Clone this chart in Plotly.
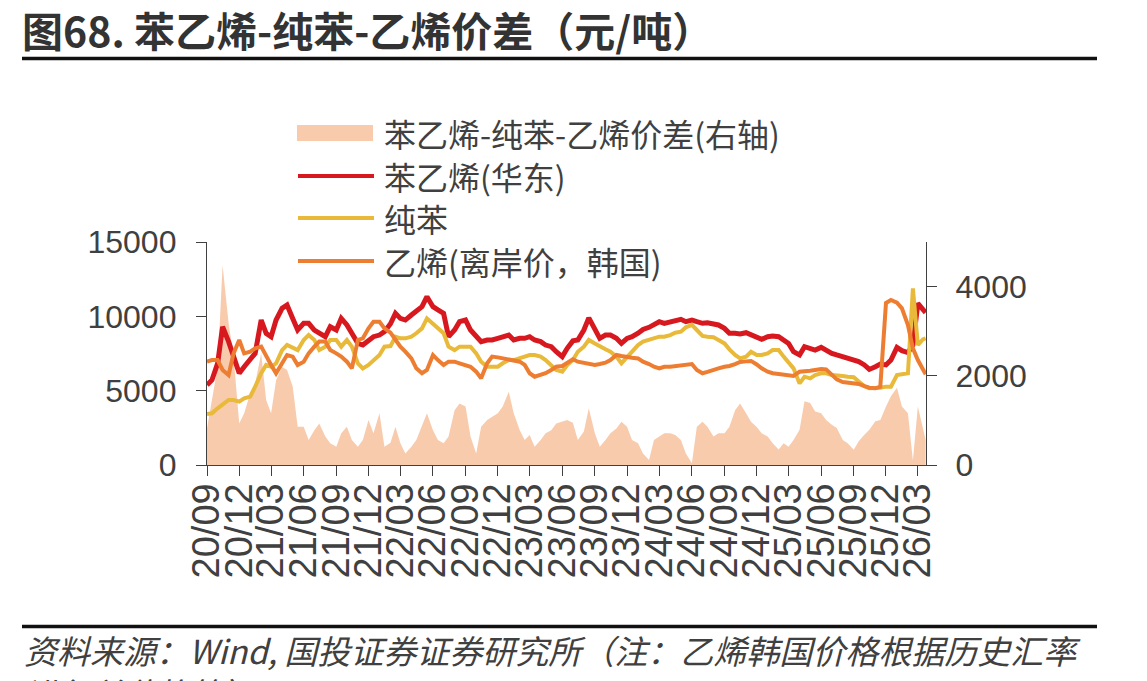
import pandas as pd
import plotly.graph_objects as go

# ---------------- data (semi-monthly readings from the chart) ----------------
dates = list(pd.date_range('2020-09-01', '2026-03-15', freq='SMS').strftime('%Y-%m-%d')) + ['2026-03-23']

styrene = [
    5380, 5720, 6840, 9300, 8300, 7290, 6170, 6610, 7170, 7510,
    9750, 8860, 8630, 9750, 10540, 10760, 9860, 9080, 9530, 9530,
    9080, 8860, 8630, 9300, 9080, 9860, 9420, 8860, 8180, 8070,
    8410, 8630, 8740, 8970, 9500, 10200, 9860, 9750, 10090, 10310,
    10650, 11320, 10650, 10430, 10200, 8630, 9080, 9640, 9750, 9080,
    8630, 8300, 8410, 8410, 8520, 8630, 8740, 8410, 8520, 8520,
    8630, 8410, 8300, 8070, 7960, 7620, 7290, 7850, 8350, 8410,
    9080, 9900, 9100, 8520, 8740, 8740, 8520, 8180, 8520, 8630,
    8860, 9120, 9260, 9420, 9640, 9530, 9640, 9710, 9800, 9640,
    9750, 9640, 9530, 9570, 9530, 9420, 9190, 8860, 8860, 8810,
    8900, 8740, 8610, 8450, 8630, 8680, 8630, 8450, 8180, 7620,
    7400, 7960, 7850, 7730, 7910, 7690, 7510, 7400, 7290, 7170,
    7020, 6950, 6730, 6430, 6610, 6790, 6730, 7060, 7910, 7690,
    7560, 8070, 10870, 10430, 10250,
]

benzene = [
    3430, 3475, 3810, 4040, 4370, 4370, 4260, 4480, 4600, 5270,
    6170, 6730, 6610, 6840, 7730, 8070, 7850, 7730, 8410, 8740,
    8410, 7730, 7960, 8410, 8410, 7960, 8410, 7960, 6840, 6500,
    6730, 7060, 7400, 7960, 8000, 8630, 8520, 8520, 8630, 8860,
    9190, 9860, 9530, 9190, 8860, 7960, 7730, 7960, 7960, 7960,
    7510, 6950, 6610, 6610, 6610, 6840, 7060, 7060, 7170, 7290,
    7400, 7400, 7290, 7060, 6730, 6390, 6280, 6730, 7060, 7620,
    7960, 8410, 8180, 7960, 7780, 7620, 7290, 6840, 7290, 7620,
    8070, 8300, 8410, 8520, 8630, 8630, 8740, 8900, 8970, 9260,
    9420, 9080, 8680, 8630, 8590, 8410, 8180, 7780, 7400, 7170,
    7290, 7620, 7400, 7400, 7510, 7730, 7730, 7290, 6840, 6500,
    5490, 5940, 5830, 6050, 6170, 6170, 6050, 6050, 5990, 5940,
    5900, 5610, 5310, 5160, 5160, 5200, 5270, 5270, 6050, 6120,
    6170, 11880, 8070, 8450, 8520,
]

ethylene = [
    6950, 7060, 7060, 6390, 6050, 7510, 8410, 7510, 7620, 7850,
    7960, 7290, 6730, 6170, 6840, 7400, 7290, 6730, 6950, 7510,
    7960, 8300, 8300, 7730, 7510, 7290, 6950, 6500, 8410, 8520,
    9190, 9640, 9640, 9190, 8900, 8410, 7960, 7620, 7170, 6500,
    6170, 6390, 7400, 7060, 6730, 6950, 6950, 6840, 6730, 6610,
    6280, 5830, 6840, 7290, 7240, 7170, 7110, 7060, 6950, 6730,
    6170, 5940, 6050, 6170, 6390, 6610, 6660, 6840, 7110, 6950,
    6880, 6840, 6730, 6790, 6880, 7060, 7400, 7330, 7240, 7220,
    7170, 6950, 6790, 6610, 6500, 6610, 6610, 6660, 6700, 6750,
    6790, 6390, 6170, 6260, 6430, 6500, 6610, 6660, 6790, 6930,
    6970, 7000, 6760, 6500, 6280, 6170, 6120, 6080, 6030, 5990,
    6280, 6280, 6340, 6390, 6460, 6430, 6050, 5760, 5580, 5540,
    5490, 5450, 5310, 5200, 5160, 5270, 10900, 11100, 10920, 10540,
    9420, 7850, 7060, 6500, 6100,
]

spread = [
    820, 1460, 2200, 4480, 3180, 2430, 930, 1160, 1610, 1830,
    2500, 1460, 1160, 1900, 2200, 2130, 1760, 860, 860, 560,
    780, 930, 640, 490, 410, 710, 860, 560, 410, 560,
    1010, 710, 1160, 410, 500, 860, 490, 260, 410, 560,
    860, 1160, 780, 560, 490, 640, 1230, 1380, 1310, 640,
    260, 860, 1010, 1080, 1160, 1310, 1640, 1160, 780, 560,
    670, 410, 560, 710, 780, 930, 970, 1010, 950, 560,
    750, 1270, 710, 410, 560, 710, 820, 970, 860, 560,
    490, 260, 110, 560, 640, 710, 710, 670, 560, 260,
    40, 860, 970, 860, 640, 710, 710, 860, 1230, 1380,
    1160, 970, 850, 710, 640, 490, 350, 490, 410, 560,
    790, 1430, 1390, 1200, 1160, 1010, 900, 830, 560, 490,
    340, 530, 680, 790, 980, 1010, 1310, 1540, 1730, 1310,
    1160, 100, 1310, 860, 560,
]

tick_labels = ['20/09', '20/12', '21/03', '21/06', '21/09', '21/12', '22/03', '22/06',
               '22/09', '22/12', '23/03', '23/06', '23/09', '23/12', '24/03', '24/06',
               '24/09', '24/12', '25/03', '25/06', '25/09', '25/12', '26/03']
tick_vals = ['20%s-%s-01' % (t[:2], t[3:]) for t in tick_labels]

left_ticks = [0, 5000, 10000, 15000]
left_labels = ['0', '5000', '10000', '15000']
right_ticks = [0, 2000, 4000]
right_labels = ['0', '2000', '4000']

series_names = ['苯乙烯-纯苯-乙烯价差(右轴)', '苯乙烯(华东)', '纯苯', '乙烯(离岸价，韩国)']
colors = ['#F8CBAD', '#D7181F', '#E9B93A', '#ED7D31']

title_text = '图68. 苯乙烯-纯苯-乙烯价差（元/吨）'
source_line1 = '资料来源：Wind, 国投证券证券研究所（注：乙烯韩国价格根据历史汇率'
source_line2 = '进行单位换算）'

# ---------------- figure ----------------
W, H = 1147, 681
ML, MR, MT, MB = 207, 221, 242, 216
PW, PH = W - ML - MR, H - MT - MB


def px(x):
    return (x - ML) / PW


def py(y):
    return (H - MB - y) / PH


TXT = '#404040'
CJK = 'Noto Sans CJK SC'
NUM = 'Liberation Sans'

fig = go.Figure()
fig.add_trace(go.Scatter(x=dates, y=spread, mode='lines', fill='tozeroy',
                         fillcolor=colors[0], line=dict(width=0, color=colors[0]),
                         yaxis='y', name=series_names[0]))
for vals, name, col, w in [(styrene, series_names[1], colors[1], 5),
                           (benzene, series_names[2], colors[2], 4),
                           (ethylene, series_names[3], colors[3], 4)]:
    fig.add_trace(go.Scatter(x=dates, y=vals, mode='lines', name=name,
                             line=dict(color=col, width=w), yaxis='y2'))

axis_common = dict(showgrid=False, zeroline=False, showline=True, linecolor=TXT,
                   linewidth=1.3, ticks='outside', ticklen=10, tickwidth=1.3,
                   tickcolor=TXT)

fig.update_layout(
    width=W, height=H,
    margin=dict(l=ML, r=MR, t=MT, b=MB, pad=0),
    paper_bgcolor='white', plot_bgcolor='white',
    showlegend=False,
    xaxis=dict(type='date', range=['2020-09-01', '2026-03-24'],
               tickmode='array', tickvals=tick_vals, ticktext=tick_labels,
               tickangle=-90, tickfont=dict(family=NUM, size=38, color=TXT),
               ticklabelstandoff=-8, **axis_common),
    yaxis=dict(side='right', range=[0, 5000], tickmode='array', tickvals=right_ticks,
               ticktext=right_labels,
               tickfont=dict(family=NUM, size=32, color=TXT),
               ticklabelstandoff=12, **axis_common),
    yaxis2=dict(side='left', overlaying='y', anchor='x', range=[0, 15000],
                tickmode='array', tickvals=left_ticks, ticktext=left_labels,
                tickfont=dict(family=NUM, size=32, color=TXT),
                ticklabelstandoff=13, **axis_common),
)

shapes = []
annotations = []

# title and rules
annotations.append(dict(text=title_text, xref='paper', yref='paper', x=px(20), y=py(29),
                        xanchor='left', yanchor='middle', showarrow=False,
                        font=dict(family=CJK, size=41, color='#333333', weight='bold')))
shapes.append(dict(type='line', xref='paper', yref='paper', x0=px(22), x1=px(1097),
                   y0=py(58.5), y1=py(58.5), line=dict(color='#111111', width=3.5)))
shapes.append(dict(type='line', xref='paper', yref='paper', x0=px(22), x1=px(1097),
                   y0=py(626.5), y1=py(626.5), line=dict(color='#111111', width=3.5)))
annotations.append(dict(text=source_line1 + '<br>' + source_line2, xref='paper', yref='paper',
                        x=px(22), y=py(671), xanchor='left', yanchor='middle', align='left',
                        showarrow=False,
                        font=dict(family=CJK, size=33, color=TXT, style='italic')))

# manual legend
leg_y = [133, 176, 218, 261]
shapes.append(dict(type='rect', xref='paper', yref='paper', x0=px(297), x1=px(373),
                   y0=py(125), y1=py(141), fillcolor=colors[0], line=dict(width=0)))
for k in range(1, 4):
    shapes.append(dict(type='line', xref='paper', yref='paper', x0=px(298), x1=px(374),
                       y0=py(leg_y[k]), y1=py(leg_y[k]),
                       line=dict(color=colors[k], width=4)))
for k in range(4):
    annotations.append(dict(text=series_names[k], xref='paper', yref='paper',
                            x=px(382), y=py(leg_y[k]), xanchor='left', yanchor='middle',
                            showarrow=False, font=dict(family=CJK, size=32, color=TXT)))

fig.update_layout(shapes=shapes, annotations=annotations)
fig.write_html('out.html')
